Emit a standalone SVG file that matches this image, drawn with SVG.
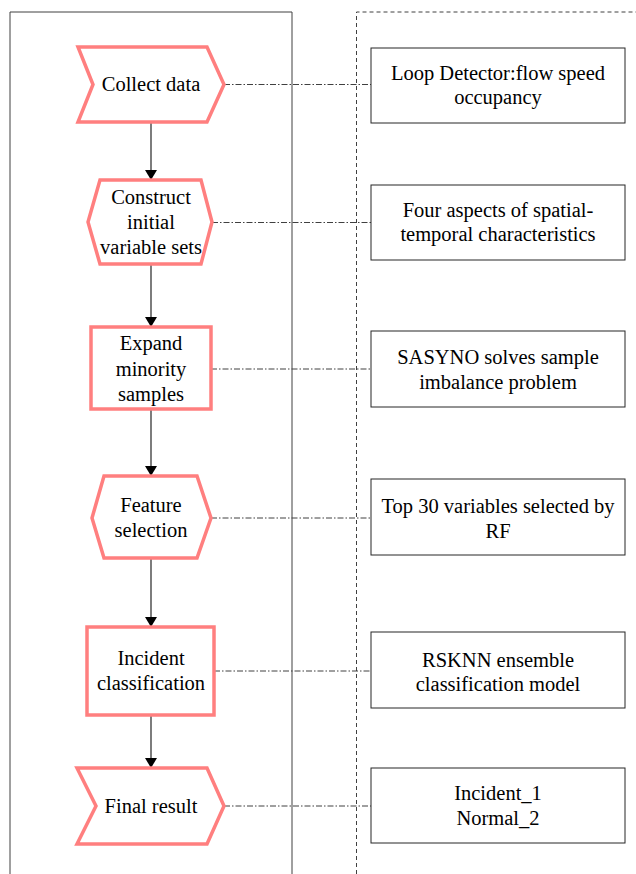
<svg xmlns="http://www.w3.org/2000/svg" width="636" height="874" viewBox="0 0 636 874">
<defs>
<style>
.node{fill:#fff;stroke:#ff7f7f;stroke-width:3.5;stroke-linejoin:miter}
.box{fill:#fff;stroke:#262626;stroke-width:1}
text{font-family:'Liberation Serif','Times New Roman',Times,serif;font-size:20.5px;fill:#000;text-anchor:middle}
.flow{stroke:#262626;stroke-width:1.2;fill:none}
.link{stroke:#404040;stroke-width:1;fill:none;stroke-dasharray:6 2 1.5 2}
</style>
<marker id="ah" viewBox="0 0 10 12" refX="10" refY="6" markerWidth="10" markerHeight="12" markerUnits="userSpaceOnUse" orient="auto">
<path d="M0,0 L10,6 L0,12 Z" fill="#000"/>
</marker>
</defs>
<rect width="636" height="874" fill="#fff"/>
<g id="frames">
<path d="M10,874 V12 H292 V874" fill="none" stroke="#404040" stroke-width="1"/>
<path d="M356.5,874 V12 H636" fill="none" stroke="#404040" stroke-width="1" stroke-dasharray="4 3"/>
</g>
<g id="connectors">
<line class="flow" x1="151" y1="122" x2="151" y2="180" marker-end="url(#ah)"/>
<line class="flow" x1="151" y1="264" x2="151" y2="327" marker-end="url(#ah)"/>
<line class="flow" x1="151" y1="409" x2="151" y2="476" marker-end="url(#ah)"/>
<line class="flow" x1="151" y1="558" x2="151" y2="627" marker-end="url(#ah)"/>
<line class="flow" x1="151" y1="715" x2="151" y2="768" marker-end="url(#ah)"/>
<line class="link" x1="224" y1="84.5" x2="371" y2="84.5"/>
<line class="link" x1="212" y1="222.5" x2="371" y2="222.5"/>
<line class="link" x1="211" y1="369" x2="371" y2="369"/>
<line class="link" x1="211" y1="518" x2="371" y2="518"/>
<line class="link" x1="214" y1="671" x2="371" y2="671"/>
<line class="link" x1="224" y1="806" x2="371" y2="806"/>
</g>
<g id="n-collect">
<path class="node" d="M78,47 H207 L224,84.5 L207,122 H78 L93,84.5 Z"/>
<text x="151" y="91">Collect data</text>
</g>
<g id="n-construct">
<path class="node" d="M100,180 H201 L212,222 L201,264 H100 L88,222 Z"/>
<text x="151" y="204">Construct</text>
<text x="151" y="229">initial</text>
<text x="151" y="254">variable sets</text>
</g>
<g id="n-expand">
<rect class="node" x="91" y="327" width="120" height="82"/>
<text x="151" y="350">Expand</text>
<text x="151" y="375.5">minority</text>
<text x="151" y="401">samples</text>
</g>
<g id="n-feature">
<path class="node" d="M104,476 H197 L211,518 L197,558 H104 L92,518 Z"/>
<text x="151" y="512">Feature</text>
<text x="151" y="537">selection</text>
</g>
<g id="n-incident">
<rect class="node" x="87" y="627" width="127" height="88"/>
<text x="151" y="665">Incident</text>
<text x="151" y="690">classification</text>
</g>
<g id="n-final">
<path class="node" d="M77,768 H207 L224,806 L207,844 H77 L96,806 Z"/>
<text x="151" y="813">Final result</text>
</g>
<g id="b-loop">
<rect class="box" x="371" y="48" width="254" height="75"/>
<text x="498" y="80">Loop Detector:flow speed</text>
<text x="498" y="104">occupancy</text>
</g>
<g id="b-four">
<rect class="box" x="371" y="185" width="254" height="75"/>
<text x="498" y="217">Four aspects of spatial-</text>
<text x="498" y="241">temporal characteristics</text>
</g>
<g id="b-sasyno">
<rect class="box" x="371" y="331" width="254" height="76"/>
<text x="498" y="364">SASYNO solves sample</text>
<text x="498" y="389">imbalance problem</text>
</g>
<g id="b-top30">
<rect class="box" x="371" y="479" width="254" height="76"/>
<text x="498" y="513">Top 30 variables selected by</text>
<text x="498" y="538">RF</text>
</g>
<g id="b-rsknn">
<rect class="box" x="371" y="632" width="254" height="76"/>
<text x="498" y="667">RSKNN ensemble</text>
<text x="498" y="691">classification model</text>
</g>
<g id="b-result">
<rect class="box" x="371" y="768" width="254" height="75"/>
<text x="498" y="800">Incident_1</text>
<text x="498" y="825">Normal_2</text>
</g>
</svg>
